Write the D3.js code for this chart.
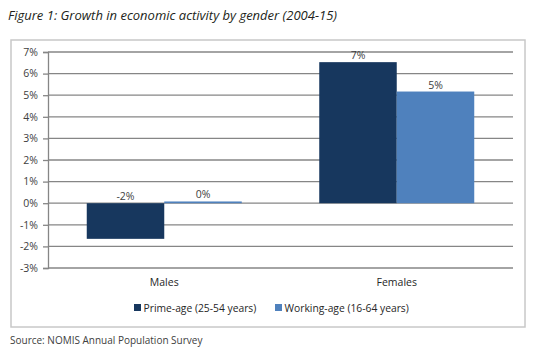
<!DOCTYPE html>
<html><head><meta charset="utf-8">
<script src="https://cdn.jsdelivr.net/npm/d3@7"></script>
<style>body{margin:0;background:#fff}svg{display:block}</style>
</head><body>
<svg id="c" width="550" height="351"></svg>
<script>
const categories = ["Males", "Females"];
const seriesNames = ["Prime-age (25-54 years)", "Working-age (16-64 years)"];
const primeAge = [-1.65, 6.53];
const workingAge = [0.08, 5.17];
const barLabels = [["-2%", "0%"], ["7%", "5%"]];
const yTicks = [-3, -2, -1, 0, 1, 2, 3, 4, 5, 6, 7];
const colors = ["#17375e", "#4f81bd"];

const svg = d3.select("#c");
const font = "'Open Sans', sans-serif";

// title
svg.append("text").attr("x", 8).attr("y", 20)
  .attr("font-family", font).attr("font-style", "italic").attr("font-size", 13)
  .attr("fill", "#231f20").text("Figure 1: Growth in economic activity by gender (2004-15)");

// outer box
svg.append("rect").attr("x", 11).attr("y", 40).attr("width", 514).attr("height", 287)
  .attr("fill", "none").attr("stroke", "#c8c8c8").attr("stroke-width", 1.5);

const x0 = d3.scaleBand().domain(categories).range([48, 513]).paddingInner(0.3333).paddingOuter(0.1667);
const x1 = d3.scaleBand().domain([0, 1]).range([0, x0.bandwidth()]);
const y = d3.scaleLinear().domain([-3, 7]).range([268, 52]);

// gridlines
svg.append("g").selectAll("line").data(yTicks).join("line")
  .attr("x1", 48).attr("x2", 513).attr("y1", d => y(d)).attr("y2", d => y(d))
  .attr("stroke", "#868686").attr("stroke-width", 1.3);

// y axis
const yAxis = svg.append("g").attr("transform", "translate(48,0)")
  .call(d3.axisLeft(y).tickValues(yTicks).tickSize(5).tickPadding(5).tickFormat(d => d + "%"));
yAxis.select(".domain").attr("stroke", "#868686").attr("stroke-width", 1.3);
yAxis.selectAll(".tick line").attr("stroke", "#868686").attr("stroke-width", 1.3);
yAxis.selectAll("text").attr("font-family", font).attr("font-size", 10.5).attr("fill", "#404040");

// bars
const data = categories.map((c, i) => ({c, vals: [primeAge[i], workingAge[i]], labels: barLabels[i]}));
const g = svg.append("g").selectAll("g").data(data).join("g")
  .attr("transform", d => `translate(${x0(d.c)},0)`);
g.selectAll("rect").data(d => d.vals).join("rect")
  .attr("x", (v, j) => x1(j)).attr("width", x1.bandwidth())
  .attr("y", v => y(Math.max(0, v))).attr("height", v => Math.abs(y(v) - y(0)))
  .attr("fill", (v, j) => colors[j]);
g.selectAll("text").data(d => d.vals.map((v, j) => ({v, j, t: d.labels[j]}))).join("text")
  .attr("x", d => x1(d.j) + x1.bandwidth() / 2)
  .attr("y", d => y(Math.max(0, d.v)) - 3)
  .attr("text-anchor", "middle").attr("font-family", font).attr("font-size", 10.5)
  .attr("fill", "#404040").text(d => d.t);

// category labels
svg.append("g").selectAll("text").data(categories).join("text")
  .attr("x", d => x0(d) + x0.bandwidth() / 2).attr("y", 286)
  .attr("text-anchor", "middle").attr("font-family", font).attr("font-size", 10.5)
  .attr("fill", "#262626").text(d => d);

// legend
const legendX = [134, 275];
const lg = svg.append("g").selectAll("g").data(seriesNames).join("g")
  .attr("transform", (d, i) => `translate(${legendX[i]},304)`);
lg.append("rect").attr("width", 7).attr("height", 7).attr("fill", (d, i) => colors[i]);
lg.append("text").attr("x", 9.5).attr("y", 7.5).attr("font-family", font).attr("font-size", 10.3)
  .attr("fill", "#262626").text(d => d);

// source
svg.append("text").attr("x", 10).attr("y", 344).attr("font-family", font).attr("font-size", 10)
  .attr("fill", "#404040").text("Source: NOMIS Annual Population Survey");
</script>
</body></html>
